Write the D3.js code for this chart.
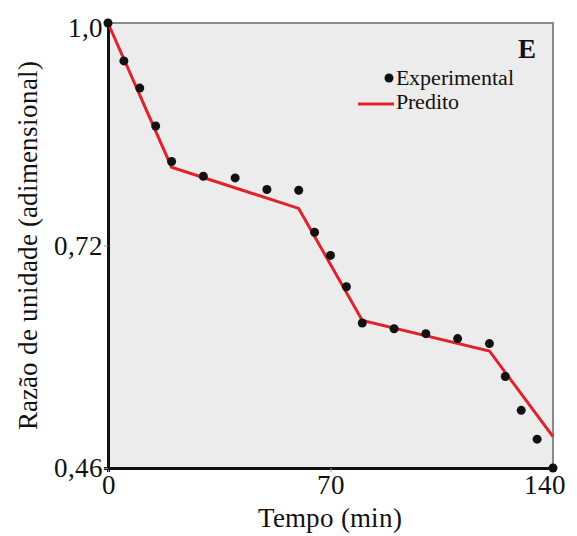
<!DOCTYPE html>
<html>
<head>
<meta charset="utf-8">
<script src="https://cdn.jsdelivr.net/npm/d3@7"></script>
<style>
  @font-face { font-family: 'ChartSerif'; src: local('Liberation Serif'), local('LiberationSerif'), local('Times New Roman'); }
  @font-face { font-family: 'ChartSerif'; font-weight: bold; src: local('Liberation Serif Bold'), local('LiberationSerif-Bold'); }
</style>
</head>
<body style="margin:0">
<svg id="svg" width="577" height="536"></svg>
<script>
// experimental points (time in min, moisture ratio)
const expTime = [0, 5, 10, 15, 20, 30, 40, 50, 60, 65, 70, 75, 80, 90, 100, 110, 120, 125, 130, 135, 140];
const expValue = [1.0, 0.954, 0.921, 0.875, 0.832, 0.814, 0.812, 0.798, 0.797, 0.746, 0.718, 0.680,
  0.636, 0.629, 0.623, 0.617, 0.611, 0.571, 0.530, 0.495, 0.46];
// predicted piecewise line
const predTime = [0, 20, 60, 80, 120, 140];
const predValue = [1.0, 0.825, 0.775, 0.639, 0.602, 0.498];
const xTicks = [0, 70, 140];
const yTicks = [0.46, 0.73, 1.0];
const yTickLabels = ['0,46', '0,72', '1,0'];

const fontName = "ChartSerif, 'Liberation Serif', 'Times New Roman', serif";

function draw() {
  const svg = d3.select('#svg');
  const left = 108, right = 553, top = 23, bottom = 468;

  const x = d3.scaleLinear().domain([0, 140]).range([left, right]);
  const y = d3.scaleLinear().domain([0.46, 1.0]).range([bottom, top]);

  svg.append('rect')
    .attr('x', left).attr('y', top)
    .attr('width', right - left).attr('height', bottom - top)
    .attr('fill', '#ececec')
    .attr('stroke', '#8a8a8a').attr('stroke-width', 2);

  const xAxis = svg.append('g').attr('transform', `translate(0,${bottom})`)
    .call(d3.axisBottom(x).tickValues(xTicks).tickSize(4).tickFormat(d => d));
  xAxis.attr('font-family', fontName).attr('font-size', 27);
  xAxis.select('.domain').attr('stroke', '#111').attr('stroke-width', 3);
  xAxis.selectAll('.tick line').attr('stroke', '#999');
  xAxis.selectAll('.tick text')
    .attr('y', 7)
    .attr('dx', (d, i) => i === 2 ? -9 : 0)
    .attr('fill', '#111');

  const yAxis = svg.append('g').attr('transform', `translate(${left},0)`)
    .call(d3.axisLeft(y).tickValues(yTicks).tickSize(4).tickFormat((d, i) => yTickLabels[i]));
  yAxis.attr('font-family', fontName).attr('font-size', 27);
  yAxis.select('.domain').attr('stroke', '#111').attr('stroke-width', 3);
  yAxis.selectAll('.tick line').attr('stroke', '#999');
  yAxis.selectAll('.tick text')
    .attr('x', -5)
    .attr('dy', (d, i) => i === 2 ? '0.5em' : '0.32em')
    .attr('fill', '#111');

  const line = d3.line().x(d => x(d[0])).y(d => y(d[1]));
  svg.append('path')
    .datum(predTime.map((t, i) => [t, predValue[i]]))
    .attr('d', line)
    .attr('fill', 'none')
    .attr('stroke', '#e0222c')
    .attr('stroke-width', 3);

  svg.selectAll('.dot')
    .data(expTime.map((t, i) => [t, expValue[i]]))
    .enter()
    .append('circle')
    .attr('class', 'dot')
    .attr('cx', d => x(d[0]))
    .attr('cy', d => y(d[1]))
    .attr('r', 4.5)
    .attr('fill', '#111');

  const labels = svg.append('g').attr('font-family', fontName).attr('fill', '#111');

  // panel letter
  labels.append('text').attr('x', 536).attr('y', 58)
    .attr('text-anchor', 'end').attr('font-size', 27).attr('font-weight', 'bold').text('E');

  // legend
  svg.append('circle').attr('cx', 389).attr('cy', 78).attr('r', 4.5).attr('fill', '#111');
  labels.append('text').attr('x', 396).attr('y', 85).attr('font-size', 22).text('Experimental');
  svg.append('line').attr('x1', 358).attr('x2', 394).attr('y1', 104).attr('y2', 104)
    .attr('stroke', '#e0222c').attr('stroke-width', 3);
  labels.append('text').attr('x', 396).attr('y', 109).attr('font-size', 22).text('Predito');

  // axis titles
  labels.append('text').attr('x', 330).attr('y', 527)
    .attr('text-anchor', 'middle').attr('font-size', 27).text('Tempo (min)');
  labels.append('text')
    .attr('transform', 'translate(37,245) rotate(-90)')
    .attr('text-anchor', 'middle').attr('font-size', 27).text('Razão de unidade (adimensional)');
}
draw();
</script>
</body>
</html>
